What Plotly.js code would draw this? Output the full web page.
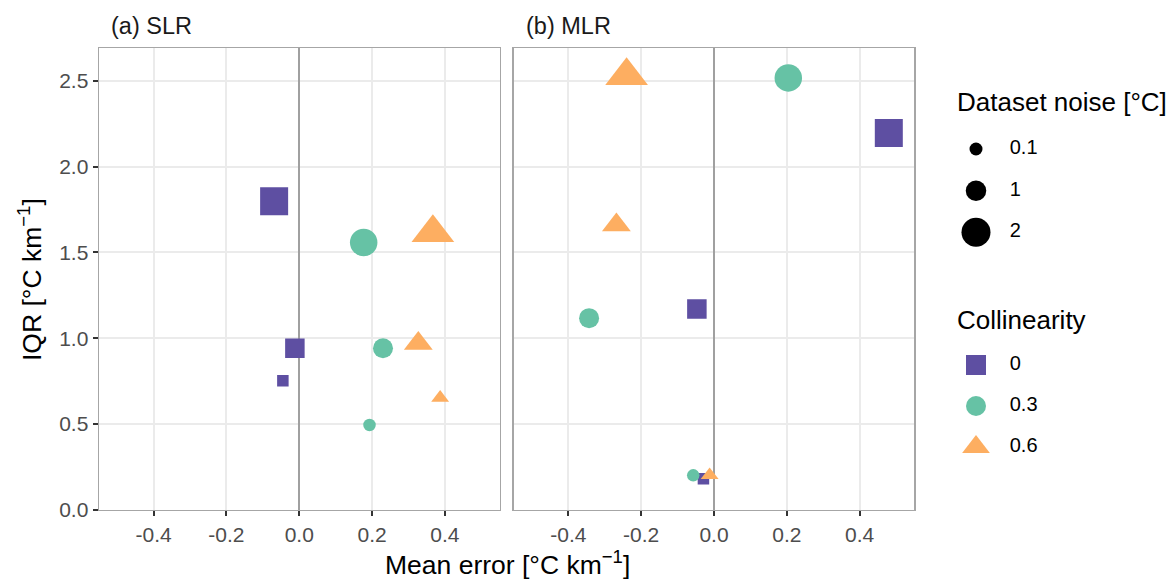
<!DOCTYPE html>
<html><head><meta charset="utf-8">
<script src="https://cdn.plot.ly/plotly-3.0.1.min.js"></script>
<style>html,body{margin:0;padding:0;background:#fff}#chart{width:1174px;height:579px}</style>
</head><body><div id="chart"></div>
<script>
// ---------- data ----------
const panelTitles = ['(a) SLR', '(b) MLR'];
const collinearityLevels = [0, 0.3, 0.6];
const noiseLevels = [0.1, 1, 2];
const noiseLabels = ['0.1', '1', '2'];
const collinearityLabels = ['0', '0.3', '0.6'];
// one row per (collinearity, noise) combination
const rowCollinearity = [0, 0, 0, 0.3, 0.3, 0.3, 0.6, 0.6, 0.6];
const rowNoise = [0.1, 1, 2, 0.1, 1, 2, 0.1, 1, 2];
const slrMeanError = [-0.045, -0.012, -0.069, 0.193, 0.230, 0.177, 0.387, 0.327, 0.367];
const slrIQR = [0.752, 0.942, 1.797, 0.495, 0.942, 1.558, 0.653, 0.970, 1.614];
const mlrMeanError = [-0.029, -0.047, 0.480, -0.057, -0.343, 0.204, -0.012, -0.268, -0.240];
const mlrIQR = [0.182, 1.170, 2.195, 0.202, 1.117, 2.516, 0.203, 1.660, 2.529];
const xTickVals = [-0.4, -0.2, 0, 0.2, 0.4];
const xTickText = ['-0.4', '-0.2', '0.0', '0.2', '0.4'];
const yTickVals = [0, 0.5, 1, 1.5, 2, 2.5];
const yTickText = ['0.0', '0.5', '1.0', '1.5', '2.0', '2.5'];

// ---------- styles ----------
const FONT = '"Liberation Sans", Arial, Helvetica, sans-serif';
const colorOf = {0: '#5E4FA2', 0.3: '#66C2A5', 0.6: '#FDAE61'};
const symbolOf = {0: 'square', 0.3: 'circle', 0.6: 'triangle-up'};
const sizeOf = {
  'square': {0.1: 11.5, 1: 19.5, 2: 28},
  'circle': {0.1: 12.5, 1: 20, 2: 27.5},
  'triangle-up': {0.1: 15.5, 1: 25, 2: 37}
};
const legendNoiseSize = {0.1: 13, 1: 20.5, 2: 29};
const legendCollSize = {'square': 20, 'circle': 20, 'triangle-up': 24};

const traces = [];
const panelData = [[slrMeanError, slrIQR], [mlrMeanError, mlrIQR]];
panelData.forEach(([xs, ys], p) => {
  collinearityLevels.forEach(c => {
    const idx = rowCollinearity.map((v, i) => v === c ? i : -1).filter(i => i >= 0);
    const sym = symbolOf[c];
    traces.push({
      type: 'scatter', mode: 'markers',
      x: idx.map(i => xs[i]), y: idx.map(i => ys[i]),
      xaxis: p === 0 ? 'x' : 'x2', yaxis: p === 0 ? 'y' : 'y2',
      marker: {symbol: sym, color: colorOf[c], opacity: 1, size: idx.map(i => sizeOf[sym][rowNoise[i]]), line: {width: 0}},
      showlegend: false, hoverinfo: 'skip'
    });
  });
});

// legend: noise (black circles)
const noiseRows = noiseLevels.map((v, i) => i);
traces.push({
  type: 'scatter', mode: 'markers', xaxis: 'x3', yaxis: 'y3',
  x: noiseLevels.map(() => 0), y: noiseRows,
  marker: {symbol: 'circle', color: '#000', opacity: 1, size: noiseLevels.map(v => legendNoiseSize[v]), line: {width: 0}},
  showlegend: false, hoverinfo: 'skip'
});
traces.push({
  type: 'scatter', mode: 'text', xaxis: 'x3', yaxis: 'y3',
  x: noiseLevels.map(() => 1.35), y: noiseRows, text: noiseLabels,
  textposition: 'middle right', textfont: {family: FONT, size: 20, color: '#000'},
  showlegend: false, hoverinfo: 'skip'
});
// legend: collinearity
const collRows = collinearityLevels.map((v, i) => i);
traces.push({
  type: 'scatter', mode: 'markers', xaxis: 'x4', yaxis: 'y4',
  x: collinearityLevels.map(() => 0), y: collRows,
  marker: {symbol: collinearityLevels.map(c => symbolOf[c]), color: collinearityLevels.map(c => colorOf[c]), opacity: 1,
           size: collinearityLevels.map(c => legendCollSize[symbolOf[c]]), line: {width: 0}},
  showlegend: false, hoverinfo: 'skip'
});
traces.push({
  type: 'scatter', mode: 'text', xaxis: 'x4', yaxis: 'y4',
  x: collinearityLevels.map(() => 1.35), y: collRows, text: collinearityLabels,
  textposition: 'middle right', textfont: {family: FONT, size: 20, color: '#000'},
  showlegend: false, hoverinfo: 'skip'
});

const W = 1174, H = 579;
const yDom = [1 - 510 / H, 1 - 48 / H];
const baseX = {
  range: [-0.55, 0.55], tickvals: xTickVals, ticktext: xTickText,
  showgrid: true, gridcolor: '#EBEBEB', gridwidth: 2,
  zeroline: true, zerolinecolor: '#A0A0A0', zerolinewidth: 1.6,
  showline: true, mirror: true, linecolor: '#A6A6A6', linewidth: 1.4,
  ticks: 'outside', ticklen: 5, tickwidth: 2, tickcolor: '#333333',
  tickfont: {family: FONT, size: 21, color: '#4D4D4D'}, fixedrange: true
};
const baseY = {
  range: [0, 2.69], tickvals: yTickVals, ticktext: yTickText, domain: yDom,
  showgrid: true, gridcolor: '#EBEBEB', gridwidth: 2, zeroline: false,
  showline: true, mirror: true, linecolor: '#A6A6A6', linewidth: 1.4,
  ticks: 'outside', ticklen: 5, tickwidth: 2, tickcolor: '#333333',
  tickfont: {family: FONT, size: 21, color: '#4D4D4D'}, fixedrange: true
};
const hidden = {visible: false, showgrid: false, zeroline: false, fixedrange: true};

const layout = {
  width: W, height: H, margin: {l: 0, r: 0, t: 0, b: 0},
  paper_bgcolor: '#fff', plot_bgcolor: '#fff', showlegend: false,
  font: {family: FONT},
  xaxis: Object.assign({}, baseX, {domain: [99 / W, 499.5 / W], anchor: 'y'}),
  yaxis: Object.assign({}, baseY, {anchor: 'x'}),
  xaxis2: Object.assign({}, baseX, {domain: [513.7 / W, 914.3 / W], anchor: 'y2'}),
  yaxis2: Object.assign({}, baseY, {anchor: 'x2', showticklabels: false, ticks: ''}),
  xaxis3: Object.assign({}, hidden, {domain: [951 / W, 1151 / W], range: [-1, 7], anchor: 'y3'}),
  yaxis3: Object.assign({}, hidden, {domain: [1 - 253.1 / H, 1 - 128.2 / H], range: [2.5, -0.5], anchor: 'x3'}),
  xaxis4: Object.assign({}, hidden, {domain: [951 / W, 1151 / W], range: [-1, 7], anchor: 'y4'}),
  yaxis4: Object.assign({}, hidden, {domain: [1 - 467.5 / H, 1 - 344.5 / H], range: [2.5, -0.5], anchor: 'x4'}),
  annotations: [
    {text: panelTitles[0], xref: 'paper', yref: 'paper', x: 109 / W, y: 1 - 26 / H, xanchor: 'left', yanchor: 'middle', showarrow: false, font: {family: FONT, size: 23.5, color: '#1A1A1A'}},
    {text: panelTitles[1], xref: 'paper', yref: 'paper', x: 524 / W, y: 1 - 26 / H, xanchor: 'left', yanchor: 'middle', showarrow: false, font: {family: FONT, size: 23.5, color: '#1A1A1A'}},
    {text: 'Mean error [°C km<sup>−1</sup>]', xref: 'paper', yref: 'paper', x: 507 / W, y: 1 - 563 / H, xanchor: 'center', yanchor: 'middle', showarrow: false, font: {family: FONT, size: 26.5, color: '#000'}},
    {text: 'IQR [°C km<sup>−1</sup>]', xref: 'paper', yref: 'paper', x: 30 / W, y: 1 - 280 / H, xanchor: 'center', yanchor: 'middle', textangle: -90, showarrow: false, font: {family: FONT, size: 26.5, color: '#000'}},
    {text: 'Dataset noise [°C]', xref: 'paper', yref: 'paper', x: 955 / W, y: 1 - 102 / H, xanchor: 'left', yanchor: 'middle', showarrow: false, font: {family: FONT, size: 26, color: '#000'}},
    {text: 'Collinearity', xref: 'paper', yref: 'paper', x: 955 / W, y: 1 - 320 / H, xanchor: 'left', yanchor: 'middle', showarrow: false, font: {family: FONT, size: 26, color: '#000'}}
  ]
};

Plotly.newPlot('chart', traces, layout, {staticPlot: true, displayModeBar: false});
</script>
</body></html>
